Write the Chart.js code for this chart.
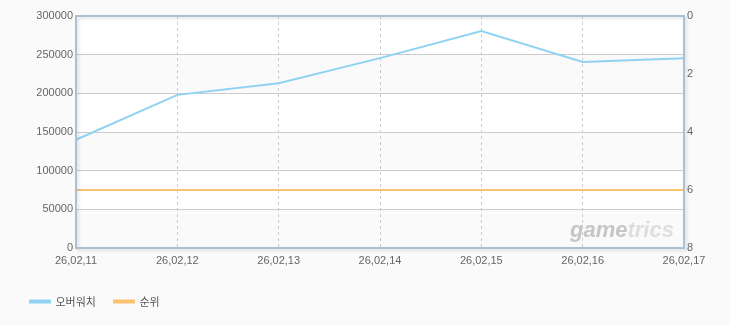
<!DOCTYPE html>
<html>
<head>
<meta charset="utf-8">
<script src="https://cdn.jsdelivr.net/npm/chart.js@4/dist/chart.umd.min.js"></script>
<style>
  body { margin: 0; background: #fafafa; }
  #chart { display: block; }
</style>
</head>
<body>
<canvas id="chart" width="730" height="325"></canvas>
<script>
const dias = ['26,02,11', '26,02,12', '26,02,13', '26,02,14', '26,02,15', '26,02,16', '26,02,17'];
const overwatch = [140000, 198000, 213000, 245500, 280500, 240500, 245500];
const ranking = [6, 6, 6, 6, 6, 6, 6];
const nomesSeries = ['오버워치', '순위'];

const corAzul = '#8fd2f2';
const corLaranja = '#f9c36e';

// faixas alternadas + borda da area do grafico
const fundoPlugin = {
    id: 'fundo',
    beforeDraw(chart) {
        const { ctx, chartArea: a, scales } = chart;
        const y = scales.y;
        ctx.save();
        for (let v = 0; v < 300000; v += 50000) {
            const topo = y.getPixelForValue(v + 50000);
            const base = y.getPixelForValue(v);
            ctx.fillStyle = (v / 50000) % 2 === 0 ? '#fafafa' : '#ffffff';
            ctx.fillRect(a.left, topo, a.right - a.left, base - topo);
        }
        ctx.restore();
    },
    beforeDatasetsDraw(chart) {
        const { ctx, chartArea: a } = chart;
        ctx.save();
        ctx.font = 'italic bold 22px "Liberation Sans", Arial, sans-serif';
        ctx.textBaseline = 'alphabetic';
        ctx.fillStyle = '#c6c6c6';
        ctx.fillText('game', a.right - 114, a.bottom - 11);
        const w = ctx.measureText('game').width;
        ctx.fillStyle = '#dedede';
        ctx.fillText('trics', a.right - 114 + w, a.bottom - 11);
        ctx.restore();
    },
    afterDraw(chart) {
        const { ctx, chartArea: a } = chart;
        ctx.save();
        ctx.shadowColor = 'rgba(0,0,0,0.12)';
        ctx.shadowOffsetX = 2;
        ctx.shadowOffsetY = 2;
        ctx.shadowBlur = 3;
        ctx.strokeStyle = '#aac0d6';
        ctx.lineWidth = 2;
        ctx.strokeRect(a.left, a.top, a.right - a.left, a.bottom - a.top);
        ctx.restore();
    }
};

const fonteTicks = { family: '"Liberation Sans", Arial, sans-serif', size: 11 };

const ctx = document.getElementById('chart').getContext('2d');
new Chart(ctx, {
    type: 'line',
    data: {
        labels: dias,
        datasets: [{
            label: nomesSeries[0],
            data: overwatch,
            yAxisID: 'y',
            borderColor: corAzul,
            backgroundColor: corAzul,
            borderWidth: 2,
            pointRadius: 0,
            tension: 0
        }, {
            label: nomesSeries[1],
            data: ranking,
            yAxisID: 'y2',
            borderColor: corLaranja,
            backgroundColor: corLaranja,
            borderWidth: 2,
            pointRadius: 0,
            tension: 0
        }]
    },
    options: {
        responsive: false,
        animation: false,
        layout: { padding: { left: 12, right: 0, top: 16, bottom: 8 } },
        plugins: {
            legend: {
                position: 'bottom',
                align: 'start',
                labels: {
                    boxWidth: 20,
                    boxHeight: 2,
                    padding: 18,
                    color: '#555',
                    font: { family: '"Noto Sans CJK KR", sans-serif', size: 11 }
                }
            },
            tooltip: { enabled: false }
        },
        scales: {
            x: {
                offset: false,
                grid: { color: '#cccccc', drawTicks: false },
                border: { display: false, dash: [3, 3] },
                ticks: {
                    color: '#666',
                    padding: 6,
                    maxRotation: 0,
                    autoSkip: false,
                    font: fonteTicks
                },
                afterFit: (s) => { s.height = 30; }
            },
            y: {
                position: 'left',
                min: 0,
                max: 300000,
                grid: { color: '#cccccc', drawTicks: false },
                border: { display: false },
                ticks: {
                    stepSize: 50000,
                    color: '#666',
                    padding: 3,
                    font: fonteTicks,
                    callback: (v) => String(v)
                },
                afterFit: (s) => { s.width = 64; }
            },
            y2: {
                position: 'right',
                reverse: true,
                min: 0,
                max: 8,
                grid: { display: false, drawTicks: false },
                border: { display: false },
                ticks: {
                    stepSize: 2,
                    color: '#666',
                    padding: 3,
                    font: fonteTicks,
                    callback: (v) => String(v)
                },
                afterFit: (s) => { s.width = 46; }
            }
        }
    },
    plugins: [fundoPlugin]
});
</script>
</body>
</html>
